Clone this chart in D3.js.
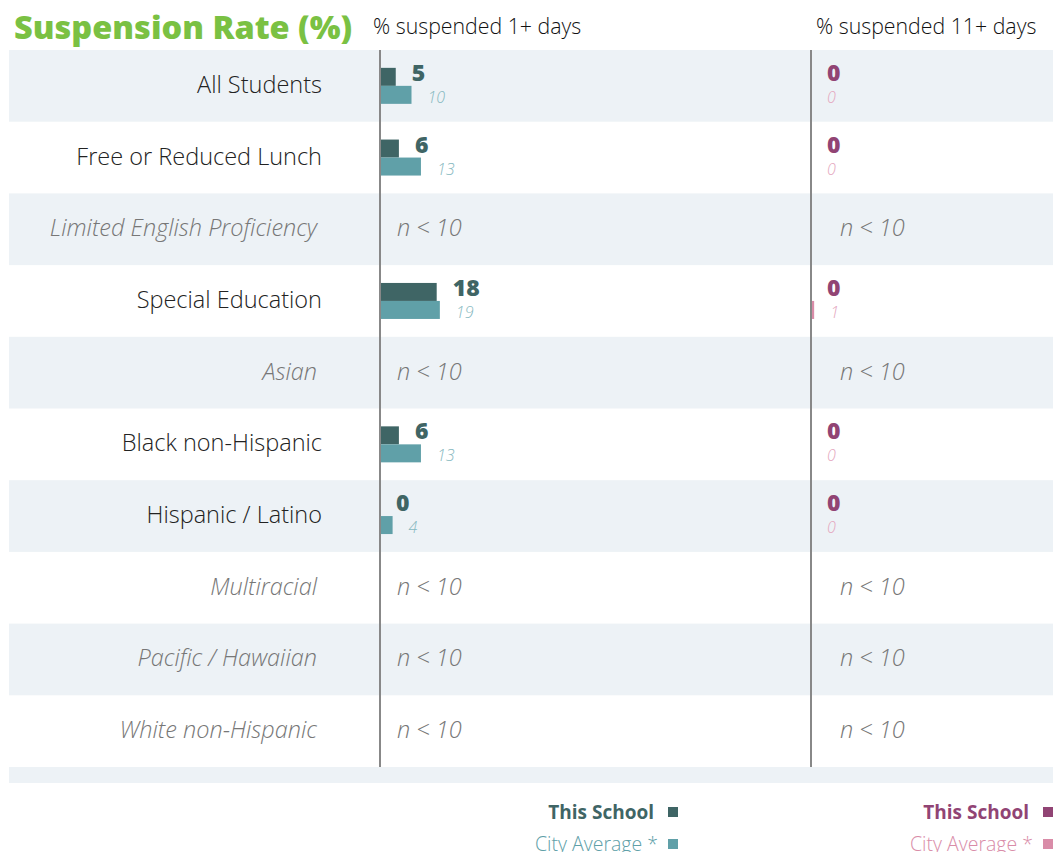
<!DOCTYPE html>
<html lang="en">
<head>
    <meta charset="UTF-8">
    <title>Suspension Rate (%)</title>
    <script src="https://d3js.org/d3.v7.min.js"></script>
    <style>
        body { margin: 0; background: #fff; font-family: "Open Sans", sans-serif; }
        svg text { font-family: "Open Sans", sans-serif; }
    </style>
</head>
<body>
<div id="chart"></div>
<script>
    // Data
    const categories = ["All Students", "Free or Reduced Lunch", "Limited English Proficiency",
        "Special Education", "Asian", "Black non-Hispanic", "Hispanic / Latino",
        "Multiracial", "Pacific / Hawaiian", "White non-Hispanic"];
    const school1 = [5, 6, null, 18, null, 6, 0, null, null, null];
    const city1 = [10, 13, null, 19, null, 13, 4, null, null, null];
    const school11 = [0, 0, null, 0, null, 0, 0, null, null, null];
    const city11 = [0, 0, null, 1, null, 0, 0, null, null, null];
    const panelTitles = ["% suspended 1+ days", "% suspended 11+ days"];

    const width = 1053, height = 852;
    const svg = d3.select("#chart").append("svg")
        .attr("width", width).attr("height", height);

    const y = d3.scaleBand().domain(categories).range([50, 767]).padding(0);
    const x = d3.scaleLinear().domain([0, 100]).range([0, 315]);

    const rows = categories.map((c, i) => ({
        cat: c, i, s1: school1[i], c1: city1[i], s11: school11[i], c11: city11[i],
        small: school1[i] === null
    }));

    // row shading
    svg.selectAll(".bg").data(rows.filter(d => d.i % 2 === 0))
        .enter().append("rect")
        .attr("x", 9).attr("width", width - 9)
        .attr("y", d => y(d.cat)).attr("height", y.bandwidth())
        .attr("fill", "#edf2f6");
    svg.append("rect").attr("x", 9).attr("width", width - 9)
        .attr("y", 767).attr("height", 16).attr("fill", "#edf2f6");

    // title
    svg.append("text").attr("x", 14).attr("y", 39)
        .attr("fill", "#7ac143").style("font-size", "32.5px").style("font-weight", 800)
        .text("Suspension Rate (%)");

    // row labels
    svg.selectAll(".lab").data(rows).enter().append("text")
        .attr("x", d => d.small ? 317 : 322)
        .attr("y", d => y(d.cat) + y.bandwidth() / 2 + 7)
        .attr("text-anchor", "end")
        .attr("fill", d => d.small ? "#777" : "#222")
        .style("font-style", d => d.small ? "italic" : "normal")
        .style("font-size", "23.5px").style("font-weight", 300)
        .text(d => d.cat);

    const panels = [
        { x0: 380, title: panelTitles[0], titleX: 373, school: "s1", city: "c1",
          dark: "#3f6565", bar: "#60a0a8", light: "#86b8c0", nOff: 17, legendEnd: 678 },
        { x0: 811, title: panelTitles[1], titleX: 816, school: "s11", city: "c11",
          dark: "#914474", bar: "#d98ca8", light: "#e4a6bd", nOff: 29, legendEnd: 1053 }
    ];

    panels.forEach(p => {
        svg.append("text").attr("x", p.titleX).attr("y", 34)
            .attr("fill", "#111").style("font-size", "21.3px").style("font-weight", 300)
            .text(p.title);

        const g = svg.append("g").attr("transform", `translate(${p.x0},0)`);
        const data = rows.filter(d => !d.small);

        g.selectAll(".sb").data(data).enter().append("rect")
            .attr("x", 0).attr("y", d => y(d.cat) + y.bandwidth() / 2 - 18)
            .attr("width", d => x(d[p.school])).attr("height", 18)
            .attr("fill", p.dark);
        g.selectAll(".cb").data(data).enter().append("rect")
            .attr("x", 0).attr("y", d => y(d.cat) + y.bandwidth() / 2)
            .attr("width", d => x(d[p.city])).attr("height", 18)
            .attr("fill", p.bar);

        g.selectAll(".sv").data(data).enter().append("text")
            .attr("x", d => x(d[p.school]) + 16)
            .attr("y", d => y(d.cat) + y.bandwidth() / 2 - 5)
            .attr("fill", p.dark).style("font-size", "23px").style("font-weight", 800)
            .text(d => d[p.school]);
        g.selectAll(".cv").data(data).enter().append("text")
            .attr("x", d => x(d[p.city]) + 16)
            .attr("y", d => y(d.cat) + y.bandwidth() / 2 + 17)
            .attr("fill", p.light).style("font-size", "16px").style("font-style", "italic")
            .style("font-weight", 300)
            .text(d => d[p.city]);

        g.selectAll(".nt").data(rows.filter(d => d.small)).enter().append("text")
            .attr("x", p.nOff)
            .attr("y", d => y(d.cat) + y.bandwidth() / 2 + 7)
            .attr("fill", "#777").style("font-size", "23.5px").style("font-style", "italic")
            .style("font-weight", 300)
            .text("n < 10");

        g.append("line").attr("x1", 0).attr("x2", 0).attr("y1", 50).attr("y2", 767)
            .attr("stroke", "#888").attr("stroke-width", 2);

        // legend
        const lg = svg.append("g");
        lg.append("rect").attr("x", p.legendEnd - 10).attr("y", 807)
            .attr("width", 10).attr("height", 10).attr("fill", p.dark);
        lg.append("text").attr("x", p.legendEnd - 24).attr("y", 819)
            .attr("text-anchor", "end").attr("fill", p.dark)
            .style("font-size", "19px").style("font-weight", 700).text("This School");
        lg.append("rect").attr("x", p.legendEnd - 10).attr("y", 839)
            .attr("width", 10).attr("height", 10).attr("fill", p.bar);
        lg.append("text").attr("x", p.legendEnd - 20).attr("y", 851)
            .attr("text-anchor", "end").attr("fill", p.bar)
            .style("font-size", "19.5px").style("font-weight", 300).text("City Average *");
    });
</script>
</body>
</html>
